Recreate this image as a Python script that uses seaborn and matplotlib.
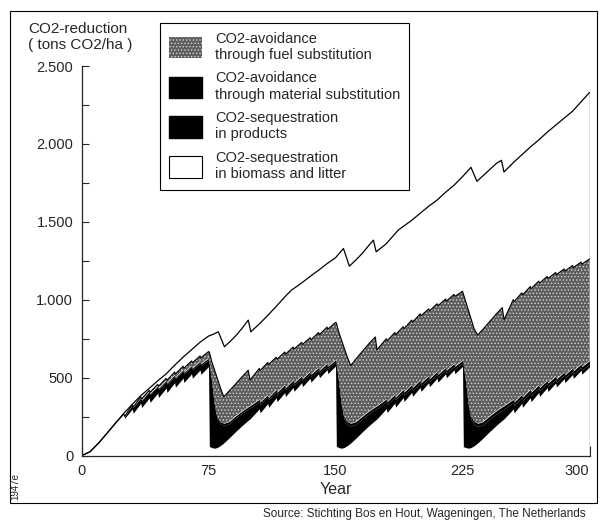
import numpy as np
import matplotlib
matplotlib.use("Agg")
import matplotlib.pyplot as plt
import seaborn as sns
from matplotlib.patches import Patch, Rectangle
from matplotlib.ticker import MultipleLocator, FixedLocator, FuncFormatter

# ---------------- data ----------------
years = [0, 5, 10, 15, 20, 25, 25.5, 30, 30.5, 35, 35.5, 40, 40.5, 45, 45.5, 50, 50.5,
         55, 55.5, 60, 60.5, 65, 65.5, 70, 70.5, 75,
         75.5, 77, 78.5, 80, 82, 84, 87, 91, 95, 98.5, 99.5, 105, 105.5, 110, 110.5,
         115, 115.5, 120, 120.5, 125, 125.5, 130, 130.5, 135, 135.5, 140, 140.5, 145, 145.5, 150,
         150.5, 152, 153.5, 155, 157, 159, 162, 166, 170, 173.5, 174.5, 180, 180.5, 185, 185.5,
         190, 190.5, 195, 195.5, 200, 200.5, 205, 205.5, 210, 210.5, 215, 215.5, 220, 220.5, 225,
         225.5, 227, 228.5, 230, 232, 234, 237, 241, 245, 248.5, 249.5, 255, 255.5, 260, 260.5,
         265, 265.5, 270, 270.5, 275, 275.5, 280, 280.5, 285, 285.5, 290, 290.5, 295, 295.5, 300]

biomass = [0, 25, 80, 143, 208, 268, 240, 300, 272, 337, 309, 370, 342, 402, 374, 434, 406,
           468, 440, 498, 470, 525, 497, 550, 522, 572,
           60, 52, 48, 52, 65, 82, 112, 155, 195, 228, 236, 300, 275, 335, 310,
           372, 347, 405, 380, 438, 413, 468, 443, 497, 472, 525, 500, 552, 527, 575,
           60, 52, 48, 52, 65, 82, 112, 155, 195, 228, 236, 302, 277, 337, 312,
           373, 348, 406, 381, 438, 413, 468, 443, 497, 472, 525, 500, 551, 526, 573,
           58, 52, 48, 52, 65, 82, 112, 155, 195, 228, 236, 300, 275, 336, 311,
           372, 347, 405, 380, 437, 412, 466, 441, 494, 469, 521, 496, 548, 523, 570]

products = [0, 0, 0, 0, 0, 0, 11, 26, 37, 35, 46, 40, 51, 42, 53, 43, 54,
            44, 55, 45, 56, 45, 56, 45, 56, 43,
            526, 414, 278, 189, 139, 112, 92, 86, 79, 72, 70, 48, 55, 43, 50,
            39, 46, 36, 43, 33, 40, 30, 37, 29, 36, 27, 34, 26, 33, 26,
            523, 411, 275, 186, 136, 109, 89, 83, 76, 69, 67, 45, 52, 40, 47,
            36, 43, 33, 40, 30, 37, 27, 34, 26, 33, 24, 31, 23, 30, 22,
            520, 408, 272, 183, 133, 106, 86, 80, 73, 66, 64, 42, 49, 37, 44,
            33, 40, 30, 37, 27, 34, 24, 31, 23, 30, 21, 28, 20, 27, 20]

material = [0, 0, 0, 0, 0, 0, 1, 2, 3, 3, 4, 4, 5, 5, 6, 6, 7,
            7, 8, 8, 9, 9, 10, 10, 11, 11,
            14, 14, 14, 14, 14, 14, 14, 14, 14, 14, 14, 14, 14, 14, 14,
            14, 14, 14, 14, 14, 14, 14, 14, 14, 14, 14, 14, 14, 14, 14,
            17, 17, 17, 17, 17, 17, 17, 17, 17, 17, 17, 17, 17, 17, 17,
            17, 17, 17, 17, 17, 17, 17, 17, 17, 17, 17, 17, 17, 17, 17,
            20, 20, 20, 20, 20, 20, 20, 20, 20, 20, 20, 20, 20, 20, 20,
            20, 20, 20, 20, 20, 20, 20, 20, 20, 20, 20, 20, 20, 20, 20]

fuel = [0, 0, 0, 0, 0, 0, 0, 0, 0, 2, 6, 5, 9, 9, 13, 13, 17,
        18, 22, 23, 27, 29, 33, 35, 39, 42,
        65, 121, 212, 248, 219, 170, 195, 205, 220, 235, 165, 198, 203, 206, 211,
        207, 212, 210, 215, 212, 217, 215, 220, 217, 222, 224, 229, 233, 238, 240,
        252, 311, 403, 440, 414, 370, 402, 416, 434, 448, 360, 386, 391, 396, 401,
        402, 407, 414, 419, 425, 430, 430, 435, 435, 440, 439, 444, 444, 449, 443,
        440, 505, 593, 625, 592, 567, 592, 605, 622, 636, 552, 640, 645, 652, 657,
        660, 665, 665, 670, 666, 671, 665, 670, 661, 666, 658, 663, 654, 659, 652]

total_years = [0, 5, 10, 15, 20, 25, 30, 35, 40, 45, 50, 55, 60, 65, 70, 75, 78, 80.8, 84.4,
               88, 92, 95, 98.5, 100, 105, 110, 115, 120, 124, 130, 135, 140, 145, 150,
               154.7, 158.2, 162, 166, 169, 172.4, 174, 180, 187, 195, 200, 205, 210, 215,
               220, 225, 230, 233.5, 237, 241, 245, 248, 249.5, 255, 260, 265, 270, 275,
               280, 285, 290, 295, 300]
total_values = [0, 25, 80, 143, 208, 272, 330, 385, 432, 480, 525, 580, 632, 680, 728, 767, 780, 795, 699,
                735, 780, 820, 870, 795, 845, 900, 958, 1018, 1062, 1108, 1150, 1190, 1232, 1270,
                1329, 1216, 1255, 1300, 1340, 1383, 1308, 1360, 1447, 1510, 1555, 1600, 1640, 1690,
                1735, 1790, 1850, 1760, 1795, 1835, 1875, 1895, 1820, 1880, 1930, 1980, 2025, 2075,
                2120, 2165, 2210, 2270, 2330]

labels = ["CO2-avoidance\nthrough fuel substitution",
          "CO2-avoidance\nthrough material substitution",
          "CO2-sequestration\nin products",
          "CO2-sequestration\nin biomass and litter"]

x_major = [0, 75, 150, 225, 300]

# ---------------- style ----------------
sns.set_style("ticks")
plt.rcParams["font.family"] = ["Liberation Sans", "DejaVu Sans"]
plt.rcParams["hatch.linewidth"] = 0.6

GREY = "#5e5e5e"
DOTS = "#d4d4d4"

fig = plt.figure(figsize=(6, 5.22), dpi=100)
ax = fig.add_axes([81.5 / 600, 1 - 455.7 / 522, 508 / 600, (455.7 - 66) / 522])

polys = ax.stackplot(years, biomass, products, material, fuel,
                     colors=["white", "black", "black", GREY], linewidth=0)
polys[3].set_hatch(".....")
polys[3].set_edgecolor(DOTS)
polys[3].set_linewidth(0)

top = np.sum([biomass, products, material, fuel], axis=0)
ax.plot(years, top, color="black", lw=0.8)

sns.lineplot(x=total_years, y=total_values, ax=ax, color="black", linewidth=0.9,
             estimator=None, sort=False)
# closing edge of the areas at the last year
ax.plot([total_years[-1], total_years[-1]], [0, total_values[-1]], color="black", lw=0.9)

ax.set_xlim(0, 300)
ax.set_ylim(0, 2500)
ax.xaxis.set_major_locator(FixedLocator(x_major))
ax.xaxis.set_minor_locator(MultipleLocator(25))
ax.yaxis.set_major_locator(MultipleLocator(500))
ax.yaxis.set_minor_locator(MultipleLocator(250))
ax.yaxis.set_major_formatter(FuncFormatter(lambda v, p: f"{v:,.0f}".replace(",", ".")))
ax.tick_params(axis="x", which="both", direction="in", length=7, width=0.8, labelsize=10.5, pad=6)
ax.tick_params(axis="y", which="both", direction="in", length=5, width=0.8, labelsize=10.5, pad=6)
sns.despine(ax=ax)
for s in ["left", "bottom"]:
    ax.spines[s].set_linewidth(0.9)
ax.set_xlabel("Year", fontsize=11.5, labelpad=3)
ax.set_ylabel("")
ax.get_xticklabels()[-1].set_horizontalalignment("right")

handles = [Patch(facecolor=GREY, edgecolor=DOTS, hatch=".....", lw=0),
           Patch(facecolor="black", edgecolor="black"),
           Patch(facecolor="black", edgecolor="black"),
           Patch(facecolor="white", edgecolor="black", lw=0.8)]
leg = fig.legend(handles, labels, loc="upper left", bbox_to_anchor=(160 / 600, 1 - 23 / 522),
                 borderaxespad=0, frameon=True, fancybox=False, edgecolor="black", framealpha=1,
                 fontsize=10.5, handlelength=2.3, handleheight=1.9, handletextpad=0.9,
                 labelspacing=0.65, borderpad=0.6)
leg.get_frame().set_linewidth(0.8)

fig.text(28 / 600, 1 - 22 / 522, "CO2-reduction\n( tons CO2/ha )", ha="left", va="top",
         fontsize=11, linespacing=1.15)
fig.text(15 / 600, 1 - 486 / 522, "1947e", rotation=90, fontsize=7, ha="center", va="center")
fig.text(586 / 600, 1 - 514 / 522, "Source: Stichting Bos en Hout, Wageningen, The Netherlands",
         ha="right", va="center", fontsize=8.5)
fig.add_artist(Rectangle((10 / 600, 1 - 503 / 522), (597 - 10) / 600, (503 - 11) / 522,
                         transform=fig.transFigure, fill=False, edgecolor="black", lw=0.8))

fig.savefig("out.png", dpi=100)
